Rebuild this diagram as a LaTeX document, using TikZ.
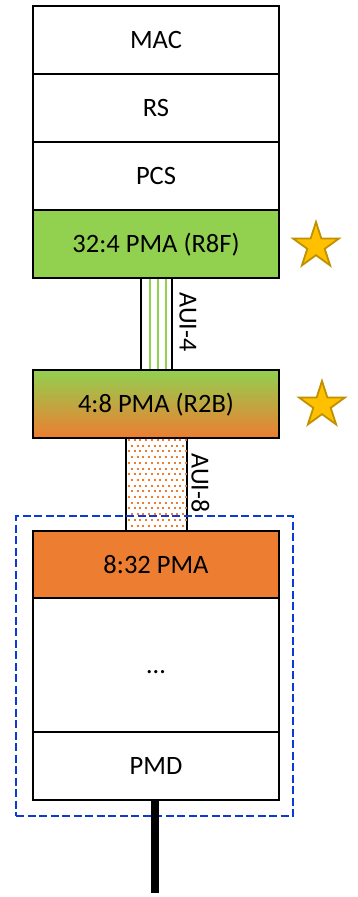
\documentclass[tikz,border=0pt]{standalone}
\usepackage{fontspec}
\setmainfont{Carlito}
\usetikzlibrary{shapes.geometric}
\definecolor{pgreen}{HTML}{92D050}
\definecolor{porange}{HTML}{ED7D31}
\definecolor{sfill}{HTML}{FFC000}
\definecolor{sdraw}{HTML}{BF9000}
\definecolor{dblue}{HTML}{0B3BD6}
\begin{document}
\begin{tikzpicture}[x=1pt,y=-1pt,
  layer/.style={draw=black, line width=2.2pt, minimum width=246pt, inner sep=0pt,
    text height=17.2pt, text depth=0pt, font=\fontsize{26.5}{31}\selectfont},
  link/.style={draw=black, fill=white, line width=2.2pt, inner sep=0pt},
  lane/.style={draw=pgreen, line width=2pt},
  lbl/.style={font=\fontsize{26}{31}\selectfont, rotate=-90, inner sep=0pt,
    text height=16.7pt, text depth=0pt},
  gold/.style={star, star points=5, star point ratio=2.618, minimum size=48pt,
    inner sep=0pt, fill=sfill, draw=sdraw, line width=1.8pt},
  grp/.style={draw=dblue, line width=2.5pt, dash pattern=on 8pt off 3.5pt}]
\useasboundingbox (0,0) rectangle (357,897);
% connectors
\node (aui4) [link, minimum width=31pt, minimum height=92pt] at (156.5,324) {};
\foreach \dx in {-6.5,1.5,9.5}
  \draw[lane] ([xshift=\dx pt]aui4.north) -- ([xshift=\dx pt]aui4.south);
\node (aui8) [link, minimum width=61pt, minimum height=93pt] at (156.5,484.5) {};
\begin{scope}
  \clip ([xshift=1.2pt]aui8.south west) rectangle ([xshift=-1.2pt]aui8.north east);
  \foreach \r in {0,...,17}
    \foreach \c in {0,...,11}
      \fill[porange] ({128+\c*5.7+mod(\r,2)*2.85},{439+\r*5.7}) rectangle +(2,2);
\end{scope}
% layers
\node (mac) [layer] at (156,40) [minimum height=68pt] {MAC};
\node (rs)  [layer] at (156,108) [minimum height=68pt] {RS};
\node (pcs) [layer] at (156,176) [minimum height=68pt] {PCS};
\node (pmaA) [layer, fill=pgreen] at (156,244) [minimum height=68pt] {32:4 PMA (R8F)};
\node (pmaB) [layer, top color=pgreen, bottom color=porange] at (156,404) [minimum height=68pt] {4:8 PMA (R2B)};
\node (pmaC) [layer, fill=porange] at (156,564.5) [minimum height=67pt] {8:32 PMA};
\node (mid) [layer] at (156,665) [minimum height=134pt] {…};
\node (pmd) [layer] at (156,766) [minimum height=68pt] {PMD};
% labels
\node (l4) [lbl] at (188,322) {AUI-4};
\node (l8) [lbl] at (200,483) {AUI-8};
% stars
\node (s1) [gold] at (316,246) {};
\node (s2) [gold] at (322,405) {};
% group
\node (box) [grp, minimum width=277pt, minimum height=300pt, inner sep=0pt] at (154.5,666) {};
% ground line
\coordinate (gnd) at (155,893);
\draw[line width=7.5pt] (pmd.south -| gnd) -- (gnd);
\end{tikzpicture}
\end{document}
